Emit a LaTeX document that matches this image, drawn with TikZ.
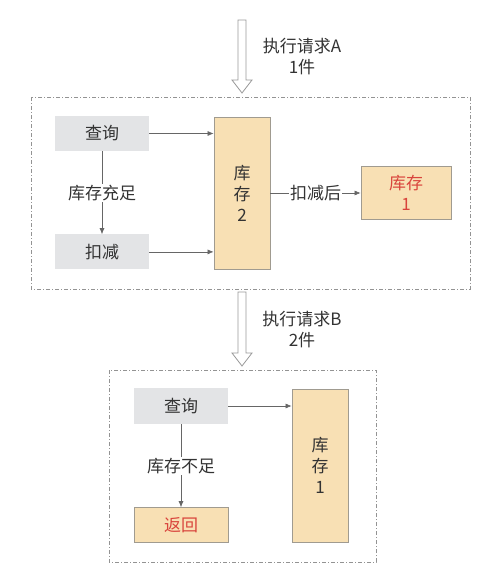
\documentclass[tikz,border=0pt]{standalone}
\usepackage{fontspec}
\setmainfont{Noto Sans CJK SC}
\usepackage{xcolor}
\usepackage{tikz}
\usetikzlibrary{arrows.meta, positioning, calc}
\definecolor{txtgray}{HTML}{333333}
\definecolor{linegray}{HTML}{666666}
\definecolor{boxgray}{HTML}{E3E4E6}
\definecolor{stockfill}{HTML}{F8E0B4}
\definecolor{stockline}{HTML}{A09B90}
\definecolor{alertred}{HTML}{D9443C}
\tikzset{
    opbox/.style={rectangle, fill=boxgray, minimum width=94pt, minimum height=35pt, inner sep=0pt, align=center, text=txtgray},
    stockbox/.style={rectangle, draw=stockline, fill=stockfill, line width=0.8pt, inner sep=0pt, align=center, text=txtgray},
    groupbox/.style={draw=gray!85, dash pattern=on 4pt off 2pt on 1pt off 2pt, line width=0.6pt},
    flow/.style={-{Latex[length=6pt, width=5pt]}, draw=linegray, line width=0.6pt},
    hollow/.style={draw=gray!80, fill=white, line width=0.8pt, line join=miter},
    lbl/.style={fill=white, inner sep=1pt, text=txtgray, align=center}
}

\begin{document}
\begin{tikzpicture}[x=1pt, y=-1pt, font=\fontsize{17}{21}\selectfont]
  \useasboundingbox (0,0) rectangle (485,584);
  % group A
  \draw[groupbox] (31,97) rectangle (470,289);
  \node[opbox] (askA) at (102,133.5) {查询};
  \node[opbox, below=83pt of askA] (cutA) {扣减};
  \node[stockbox, minimum width=56pt, minimum height=152pt] (stockA) at (242,193) {库\\存\\2};
  \node[stockbox, minimum width=90pt, minimum height=53pt, text=alertred] (afterA) at (406,193) {库存\\1};
  \draw[flow] (askA) -- (askA -| stockA.west);
  \draw[flow] (cutA) -- (cutA -| stockA.west);
  \draw[flow] (askA) -- node[lbl]{库存充足} (cutA);
  \draw[flow] (stockA) -- node[lbl]{扣减后} (afterA);
  % request A
  \coordinate (inA) at (242,20);
  \coordinate (tipA) at (242,93);
  \draw[hollow] ($(inA)+(-4,0)$) -- ($(inA)+(4,0)$) -- ($(tipA)+(4,-13)$) -- ($(tipA)+(10,-13)$)
    -- (tipA) -- ($(tipA)+(-10,-13)$) -- ($(tipA)+(-4,-13)$) -- cycle;
  \node[lbl] (reqA) at (302,57) {执行请求A\\1件};
  % group B
  \draw[groupbox] (109,370) rectangle (376,562);
  \node[opbox, minimum height=36pt] (askB) at (181,406) {查询};
  \node[stockbox, minimum width=94pt, minimum height=35pt, text=alertred, below=83pt of askB] (backB) {返回};
  \node[stockbox, minimum width=56pt, minimum height=153pt] (stockB) at (320,465.5) {库\\存\\1};
  \draw[flow] (askB) -- (askB -| stockB.west);
  \draw[flow] (askB) -- node[lbl]{库存不足} (backB);
  % request B
  \coordinate (inB) at (242,292);
  \coordinate (tipB) at (242,366);
  \draw[hollow] ($(inB)+(-4,0)$) -- ($(inB)+(4,0)$) -- ($(tipB)+(4,-13)$) -- ($(tipB)+(10,-13)$)
    -- (tipB) -- ($(tipB)+(-10,-13)$) -- ($(tipB)+(-4,-13)$) -- cycle;
  \node[lbl] (reqB) at (302,330) {执行请求B\\2件};
\end{tikzpicture}
\end{document}
